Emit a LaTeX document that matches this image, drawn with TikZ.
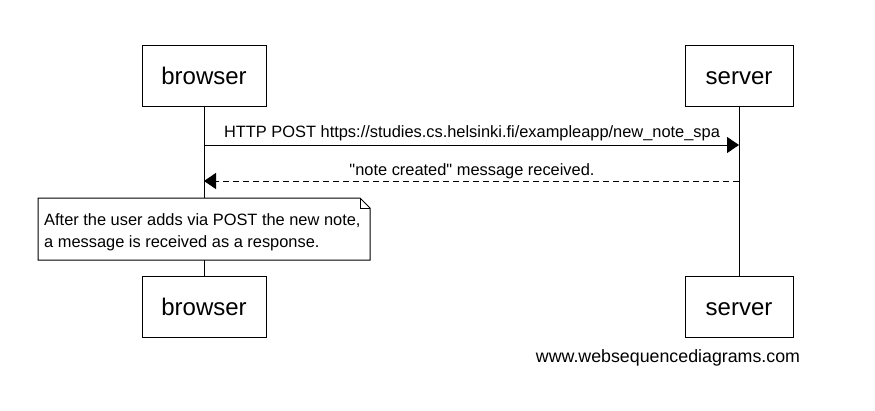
\documentclass[tikz,border=0pt]{standalone}
\usepackage{fontspec}
\setmainfont{Liberation Sans}[Ligatures=TeXOff]
\usetikzlibrary{arrows.meta}
\begin{document}
\begin{tikzpicture}[x=1pt,y=-1pt,
  actor/.style={draw,line width=1pt,minimum width=124pt,minimum height=61pt,inner sep=0pt,text height=17.5pt,text depth=0pt,font=\fontsize{24}{28}\selectfont},
  lifeline/.style={line width=1pt},
  msg/.style={line width=1pt,-{Triangle[length=12pt,width=16pt]}},
  lbl/.style={font=\fontsize{16.4}{20}\selectfont,inner sep=0pt}]
\useasboundingbox (0,0) rectangle (875,410);
\node[actor] (b1) at (204,75.5) {browser};
\node[actor,minimum width=108pt] (s1) at (739,75.5) {server};
\node[actor] (b2) at (204,307) {browser};
\node[actor,minimum width=108pt] (s2) at (739,307) {server};
\draw[lifeline] (b1.south) -- (b2.north);
\draw[lifeline] (s1.south) -- (s2.north);
\coordinate (a1s) at (204,145);
\coordinate (a1e) at (739,145);
\draw[msg] (a1s) -- (a1e);
\node[lbl] (t1) at (472,133) {HTTP POST https://studies.cs.helsinki.fi/exampleapp/new\_note\_spa};
\coordinate (a2s) at (739,181);
\coordinate (a2e) at (204,181);
\draw[msg,dashed,dash pattern=on 6pt off 4pt] (a2s) -- (a2e);
\node[lbl] (t2) at (472,171) {"note created" message received.};
% note
\coordinate (n1) at (38,198);
\coordinate (n2) at (360,198);
\coordinate (n3) at (370,208);
\coordinate (n4) at (370,260);
\coordinate (n5) at (38,260);
\draw[line width=1pt,fill=white] (n1) -- (n2) -- (n3) -- (n4) -- (n5) -- cycle;
\draw[line width=1pt] (n2) -- (360,208) -- (n3);
\node[lbl,align=left,anchor=north west,font=\fontsize{16.4}{22}\selectfont] (nt) at (44,213) {After the user adds via POST the new note,\\a message is received as a response.};
\node[lbl,font=\fontsize{17.8}{21}\selectfont] (wm) at (668,358) {www.websequencediagrams.com};
\end{tikzpicture}
\end{document}
